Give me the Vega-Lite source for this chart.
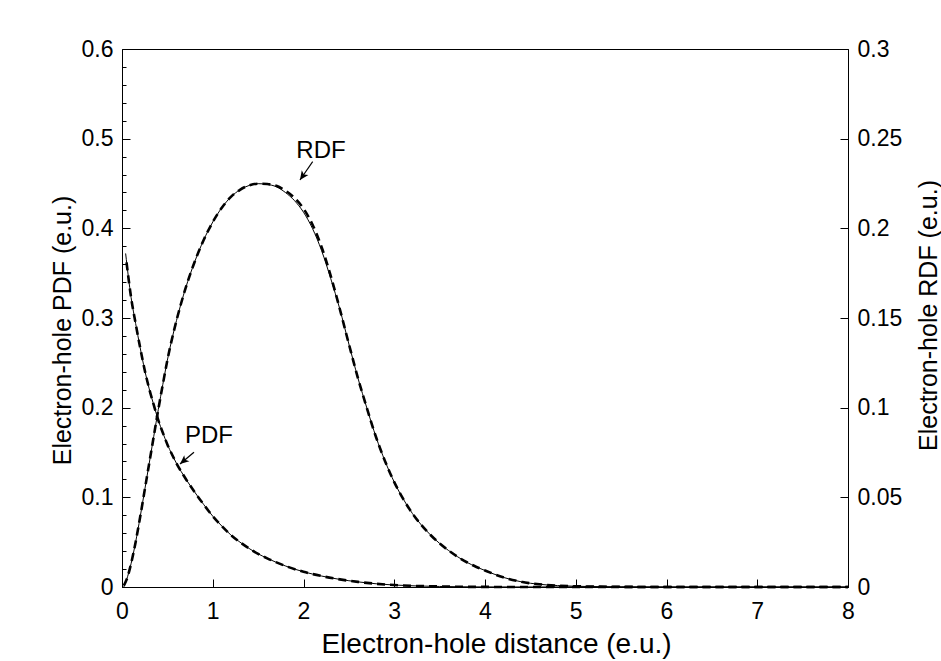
{
  "$schema": "https://vega.github.io/schema/vega-lite/v6.json",
  "width": 726,
  "height": 538,
  "autosize": "none",
  "padding": {"left": 122, "top": 49, "right": 93, "bottom": 74},
  "background": "white",
  "config": {
    "view": {"stroke": "black", "strokeWidth": 1},
    "font": "Liberation Sans",
    "axis": {
      "grid": false,
      "domainColor": "black",
      "tickColor": "black",
      "labelColor": "black",
      "titleColor": "black",
      "labelFont": "Liberation Sans",
      "titleFont": "Liberation Sans",
      "titleFontWeight": "normal",
      "labelFontSize": 23,
      "titleFontSize": 25,
      "tickSize": -8,
      "labelPadding": 17,
      "labelFlush": false,
      "labelOverlap": false
    }
  },
  "datasets": {
    "curves": [
      {"curve": "PDF", "series": "calc1", "x": 0.04, "v": 0.372},
      {"curve": "PDF", "series": "calc1", "x": 0.1, "v": 0.323},
      {"curve": "PDF", "series": "calc1", "x": 0.15, "v": 0.294},
      {"curve": "PDF", "series": "calc1", "x": 0.2, "v": 0.267},
      {"curve": "PDF", "series": "calc1", "x": 0.25, "v": 0.242},
      {"curve": "PDF", "series": "calc1", "x": 0.3, "v": 0.221},
      {"curve": "PDF", "series": "calc1", "x": 0.35, "v": 0.203},
      {"curve": "PDF", "series": "calc1", "x": 0.4, "v": 0.186},
      {"curve": "PDF", "series": "calc1", "x": 0.45, "v": 0.172},
      {"curve": "PDF", "series": "calc1", "x": 0.5, "v": 0.159},
      {"curve": "PDF", "series": "calc1", "x": 0.55, "v": 0.148},
      {"curve": "PDF", "series": "calc1", "x": 0.6, "v": 0.138},
      {"curve": "PDF", "series": "calc1", "x": 0.7, "v": 0.121},
      {"curve": "PDF", "series": "calc1", "x": 0.8, "v": 0.106},
      {"curve": "PDF", "series": "calc1", "x": 0.9, "v": 0.092},
      {"curve": "PDF", "series": "calc1", "x": 1.0, "v": 0.079},
      {"curve": "PDF", "series": "calc1", "x": 1.1, "v": 0.068},
      {"curve": "PDF", "series": "calc1", "x": 1.2, "v": 0.058},
      {"curve": "PDF", "series": "calc1", "x": 1.3, "v": 0.05},
      {"curve": "PDF", "series": "calc1", "x": 1.4, "v": 0.043},
      {"curve": "PDF", "series": "calc1", "x": 1.5, "v": 0.037},
      {"curve": "PDF", "series": "calc1", "x": 1.6, "v": 0.032},
      {"curve": "PDF", "series": "calc1", "x": 1.8, "v": 0.0235},
      {"curve": "PDF", "series": "calc1", "x": 2.0, "v": 0.017},
      {"curve": "PDF", "series": "calc1", "x": 2.2, "v": 0.0122},
      {"curve": "PDF", "series": "calc1", "x": 2.4, "v": 0.0085},
      {"curve": "PDF", "series": "calc1", "x": 2.6, "v": 0.0057},
      {"curve": "PDF", "series": "calc1", "x": 2.8, "v": 0.0036},
      {"curve": "PDF", "series": "calc1", "x": 3.0, "v": 0.0022},
      {"curve": "PDF", "series": "calc1", "x": 3.5, "v": 0.0006},
      {"curve": "PDF", "series": "calc1", "x": 4.0, "v": 0.0001},
      {"curve": "PDF", "series": "calc1", "x": 5.0, "v": 0},
      {"curve": "PDF", "series": "calc1", "x": 8.0, "v": 0},
      {"curve": "PDF", "series": "calc2", "x": 0.05, "v": 0.362},
      {"curve": "PDF", "series": "calc2", "x": 0.1, "v": 0.323},
      {"curve": "PDF", "series": "calc2", "x": 0.15, "v": 0.294},
      {"curve": "PDF", "series": "calc2", "x": 0.2, "v": 0.267},
      {"curve": "PDF", "series": "calc2", "x": 0.25, "v": 0.242},
      {"curve": "PDF", "series": "calc2", "x": 0.3, "v": 0.221},
      {"curve": "PDF", "series": "calc2", "x": 0.35, "v": 0.203},
      {"curve": "PDF", "series": "calc2", "x": 0.4, "v": 0.186},
      {"curve": "PDF", "series": "calc2", "x": 0.45, "v": 0.172},
      {"curve": "PDF", "series": "calc2", "x": 0.5, "v": 0.159},
      {"curve": "PDF", "series": "calc2", "x": 0.55, "v": 0.148},
      {"curve": "PDF", "series": "calc2", "x": 0.6, "v": 0.138},
      {"curve": "PDF", "series": "calc2", "x": 0.7, "v": 0.121},
      {"curve": "PDF", "series": "calc2", "x": 0.8, "v": 0.106},
      {"curve": "PDF", "series": "calc2", "x": 0.9, "v": 0.092},
      {"curve": "PDF", "series": "calc2", "x": 1.0, "v": 0.079},
      {"curve": "PDF", "series": "calc2", "x": 1.1, "v": 0.068},
      {"curve": "PDF", "series": "calc2", "x": 1.2, "v": 0.058},
      {"curve": "PDF", "series": "calc2", "x": 1.3, "v": 0.05},
      {"curve": "PDF", "series": "calc2", "x": 1.4, "v": 0.043},
      {"curve": "PDF", "series": "calc2", "x": 1.5, "v": 0.037},
      {"curve": "PDF", "series": "calc2", "x": 1.6, "v": 0.032},
      {"curve": "PDF", "series": "calc2", "x": 1.8, "v": 0.0235},
      {"curve": "PDF", "series": "calc2", "x": 2.0, "v": 0.017},
      {"curve": "PDF", "series": "calc2", "x": 2.2, "v": 0.0122},
      {"curve": "PDF", "series": "calc2", "x": 2.4, "v": 0.0085},
      {"curve": "PDF", "series": "calc2", "x": 2.6, "v": 0.0057},
      {"curve": "PDF", "series": "calc2", "x": 2.8, "v": 0.0036},
      {"curve": "PDF", "series": "calc2", "x": 3.0, "v": 0.0022},
      {"curve": "PDF", "series": "calc2", "x": 3.5, "v": 0.0006},
      {"curve": "PDF", "series": "calc2", "x": 4.0, "v": 0.0001},
      {"curve": "PDF", "series": "calc2", "x": 5.0, "v": 0},
      {"curve": "PDF", "series": "calc2", "x": 8.0, "v": 0},
      {"curve": "RDF", "series": "calc1", "x": 0.02, "v": 0.0},
      {"curve": "RDF", "series": "calc1", "x": 0.05, "v": 0.004},
      {"curve": "RDF", "series": "calc1", "x": 0.1, "v": 0.013},
      {"curve": "RDF", "series": "calc1", "x": 0.15, "v": 0.025},
      {"curve": "RDF", "series": "calc1", "x": 0.2, "v": 0.039},
      {"curve": "RDF", "series": "calc1", "x": 0.25, "v": 0.054},
      {"curve": "RDF", "series": "calc1", "x": 0.3, "v": 0.069},
      {"curve": "RDF", "series": "calc1", "x": 0.35, "v": 0.084},
      {"curve": "RDF", "series": "calc1", "x": 0.4, "v": 0.099},
      {"curve": "RDF", "series": "calc1", "x": 0.45, "v": 0.113},
      {"curve": "RDF", "series": "calc1", "x": 0.5, "v": 0.1265},
      {"curve": "RDF", "series": "calc1", "x": 0.6, "v": 0.1485},
      {"curve": "RDF", "series": "calc1", "x": 0.7, "v": 0.1665},
      {"curve": "RDF", "series": "calc1", "x": 0.8, "v": 0.1812},
      {"curve": "RDF", "series": "calc1", "x": 0.9, "v": 0.1935},
      {"curve": "RDF", "series": "calc1", "x": 1.0, "v": 0.2035},
      {"curve": "RDF", "series": "calc1", "x": 1.1, "v": 0.2115},
      {"curve": "RDF", "series": "calc1", "x": 1.2, "v": 0.2175},
      {"curve": "RDF", "series": "calc1", "x": 1.3, "v": 0.2215},
      {"curve": "RDF", "series": "calc1", "x": 1.4, "v": 0.2239},
      {"curve": "RDF", "series": "calc1", "x": 1.5, "v": 0.2249},
      {"curve": "RDF", "series": "calc1", "x": 1.6, "v": 0.2245},
      {"curve": "RDF", "series": "calc1", "x": 1.7, "v": 0.2232},
      {"curve": "RDF", "series": "calc1", "x": 1.8, "v": 0.22},
      {"curve": "RDF", "series": "calc1", "x": 1.9, "v": 0.2155},
      {"curve": "RDF", "series": "calc1", "x": 2.0, "v": 0.209},
      {"curve": "RDF", "series": "calc1", "x": 2.1, "v": 0.1998},
      {"curve": "RDF", "series": "calc1", "x": 2.2, "v": 0.1875},
      {"curve": "RDF", "series": "calc1", "x": 2.3, "v": 0.172},
      {"curve": "RDF", "series": "calc1", "x": 2.4, "v": 0.155},
      {"curve": "RDF", "series": "calc1", "x": 2.5, "v": 0.1355},
      {"curve": "RDF", "series": "calc1", "x": 2.6, "v": 0.1165},
      {"curve": "RDF", "series": "calc1", "x": 2.7, "v": 0.0995},
      {"curve": "RDF", "series": "calc1", "x": 2.8, "v": 0.0835},
      {"curve": "RDF", "series": "calc1", "x": 2.9, "v": 0.07},
      {"curve": "RDF", "series": "calc1", "x": 3.0, "v": 0.0585},
      {"curve": "RDF", "series": "calc1", "x": 3.1, "v": 0.049},
      {"curve": "RDF", "series": "calc1", "x": 3.2, "v": 0.041},
      {"curve": "RDF", "series": "calc1", "x": 3.3, "v": 0.0345},
      {"curve": "RDF", "series": "calc1", "x": 3.4, "v": 0.029},
      {"curve": "RDF", "series": "calc1", "x": 3.5, "v": 0.0243},
      {"curve": "RDF", "series": "calc1", "x": 3.6, "v": 0.0203},
      {"curve": "RDF", "series": "calc1", "x": 3.7, "v": 0.0168},
      {"curve": "RDF", "series": "calc1", "x": 3.8, "v": 0.0138},
      {"curve": "RDF", "series": "calc1", "x": 3.9, "v": 0.0113},
      {"curve": "RDF", "series": "calc1", "x": 4.0, "v": 0.0092},
      {"curve": "RDF", "series": "calc1", "x": 4.2, "v": 0.0054},
      {"curve": "RDF", "series": "calc1", "x": 4.4, "v": 0.0029},
      {"curve": "RDF", "series": "calc1", "x": 4.6, "v": 0.0015},
      {"curve": "RDF", "series": "calc1", "x": 4.8, "v": 0.0008},
      {"curve": "RDF", "series": "calc1", "x": 5.0, "v": 0.0004},
      {"curve": "RDF", "series": "calc1", "x": 5.5, "v": 0.0001},
      {"curve": "RDF", "series": "calc1", "x": 6.0, "v": 0},
      {"curve": "RDF", "series": "calc1", "x": 8.0, "v": 0},
      {"curve": "RDF", "series": "calc2", "x": 0.02, "v": 0.0008},
      {"curve": "RDF", "series": "calc2", "x": 0.05, "v": 0.004},
      {"curve": "RDF", "series": "calc2", "x": 0.1, "v": 0.013},
      {"curve": "RDF", "series": "calc2", "x": 0.15, "v": 0.025},
      {"curve": "RDF", "series": "calc2", "x": 0.2, "v": 0.039},
      {"curve": "RDF", "series": "calc2", "x": 0.25, "v": 0.054},
      {"curve": "RDF", "series": "calc2", "x": 0.3, "v": 0.069},
      {"curve": "RDF", "series": "calc2", "x": 0.35, "v": 0.084},
      {"curve": "RDF", "series": "calc2", "x": 0.4, "v": 0.099},
      {"curve": "RDF", "series": "calc2", "x": 0.45, "v": 0.113},
      {"curve": "RDF", "series": "calc2", "x": 0.5, "v": 0.1265},
      {"curve": "RDF", "series": "calc2", "x": 0.6, "v": 0.1485},
      {"curve": "RDF", "series": "calc2", "x": 0.7, "v": 0.1665},
      {"curve": "RDF", "series": "calc2", "x": 0.8, "v": 0.1812},
      {"curve": "RDF", "series": "calc2", "x": 0.9, "v": 0.1935},
      {"curve": "RDF", "series": "calc2", "x": 1.0, "v": 0.2035},
      {"curve": "RDF", "series": "calc2", "x": 1.1, "v": 0.2115},
      {"curve": "RDF", "series": "calc2", "x": 1.2, "v": 0.2175},
      {"curve": "RDF", "series": "calc2", "x": 1.3, "v": 0.2215},
      {"curve": "RDF", "series": "calc2", "x": 1.4, "v": 0.2239},
      {"curve": "RDF", "series": "calc2", "x": 1.5, "v": 0.2249},
      {"curve": "RDF", "series": "calc2", "x": 1.6, "v": 0.2247},
      {"curve": "RDF", "series": "calc2", "x": 1.7, "v": 0.2237},
      {"curve": "RDF", "series": "calc2", "x": 1.8, "v": 0.221},
      {"curve": "RDF", "series": "calc2", "x": 1.9, "v": 0.217},
      {"curve": "RDF", "series": "calc2", "x": 2.0, "v": 0.211},
      {"curve": "RDF", "series": "calc2", "x": 2.1, "v": 0.202},
      {"curve": "RDF", "series": "calc2", "x": 2.2, "v": 0.1895},
      {"curve": "RDF", "series": "calc2", "x": 2.3, "v": 0.1735},
      {"curve": "RDF", "series": "calc2", "x": 2.4, "v": 0.155},
      {"curve": "RDF", "series": "calc2", "x": 2.5, "v": 0.1355},
      {"curve": "RDF", "series": "calc2", "x": 2.6, "v": 0.1165},
      {"curve": "RDF", "series": "calc2", "x": 2.7, "v": 0.0995},
      {"curve": "RDF", "series": "calc2", "x": 2.8, "v": 0.0835},
      {"curve": "RDF", "series": "calc2", "x": 2.9, "v": 0.07},
      {"curve": "RDF", "series": "calc2", "x": 3.0, "v": 0.0585},
      {"curve": "RDF", "series": "calc2", "x": 3.1, "v": 0.049},
      {"curve": "RDF", "series": "calc2", "x": 3.2, "v": 0.041},
      {"curve": "RDF", "series": "calc2", "x": 3.3, "v": 0.0345},
      {"curve": "RDF", "series": "calc2", "x": 3.4, "v": 0.029},
      {"curve": "RDF", "series": "calc2", "x": 3.5, "v": 0.0243},
      {"curve": "RDF", "series": "calc2", "x": 3.6, "v": 0.0203},
      {"curve": "RDF", "series": "calc2", "x": 3.7, "v": 0.0168},
      {"curve": "RDF", "series": "calc2", "x": 3.8, "v": 0.0138},
      {"curve": "RDF", "series": "calc2", "x": 3.9, "v": 0.0113},
      {"curve": "RDF", "series": "calc2", "x": 4.0, "v": 0.0092},
      {"curve": "RDF", "series": "calc2", "x": 4.2, "v": 0.0054},
      {"curve": "RDF", "series": "calc2", "x": 4.4, "v": 0.0029},
      {"curve": "RDF", "series": "calc2", "x": 4.6, "v": 0.0015},
      {"curve": "RDF", "series": "calc2", "x": 4.8, "v": 0.0008},
      {"curve": "RDF", "series": "calc2", "x": 5.0, "v": 0.0004},
      {"curve": "RDF", "series": "calc2", "x": 5.5, "v": 0.0001},
      {"curve": "RDF", "series": "calc2", "x": 6.0, "v": 0},
      {"curve": "RDF", "series": "calc2", "x": 8.0, "v": 0}
    ],
    "labels": [
      {"label": "RDF", "x": 2.193, "y": 0.486},
      {"label": "PDF", "x": 0.959, "y": 0.168}
    ],
    "arrows": [
      {"label": "RDF", "x": 1.961, "y": 0.4539, "x2": 2.101, "y2": 0.4743},
      {"label": "PDF", "x": 0.639, "y": 0.1372, "x2": 0.793, "y2": 0.1502}
    ]
  },
  "encoding": {
    "x": {
      "field": "x",
      "type": "quantitative",
      "title": "Electron-hole distance (e.u.)",
      "scale": {"domain": [0, 8], "nice": false, "zero": false},
      "axis": {
        "values": [0, 1, 2, 3, 4, 5, 6, 7, 8],
        "format": "d",
        "tickSize": -8,
        "titleFontSize": 28,
        "titleX": 374,
        "titleY": 65,
        "titleAlign": "center",
        "titleBaseline": "alphabetic",
        "labelBaseline": "alphabetic",
        "labelPadding": 39
      }
    }
  },
  "layer": [
    {
      "data": {"name": "curves"},
      "transform": [{"filter": "datum.curve === 'PDF'"}],
      "encoding": {
        "y": {
          "field": "v",
          "type": "quantitative",
          "scale": {"domain": [0, 0.6], "nice": false},
          "axis": {
            "orient": "left",
            "values": [0, 0.1, 0.2, 0.3, 0.4, 0.5, 0.6],
            "format": "~g",
            "tickSize": -8,
            "title": "Electron-hole PDF (e.u.)",
            "titleAngle": 270,
            "titleX": -52,
            "titleY": 281,
            "titleAlign": "center",
            "titleBaseline": "alphabetic"
          }
        }
      },
      "layer": [
        {
          "transform": [{"filter": "datum.series === 'calc2'"}],
          "mark": {"type": "line", "color": "black", "strokeWidth": 2.6, "strokeDash": [8, 5], "interpolate": "monotone"}
        },
        {
          "transform": [{"filter": "datum.series === 'calc1'"}],
          "mark": {"type": "line", "color": "black", "strokeWidth": 1, "interpolate": "monotone"}
        }
      ]
    },
    {
      "data": {"name": "curves"},
      "transform": [{"filter": "datum.curve === 'RDF'"}],
      "encoding": {
        "y": {
          "field": "v",
          "type": "quantitative",
          "scale": {"domain": [0, 0.3], "nice": false},
          "axis": {
            "orient": "right",
            "values": [0, 0.05, 0.1, 0.15, 0.2, 0.25, 0.3],
            "format": "~g",
            "tickSize": -8,
            "title": "Electron-hole RDF (e.u.)",
            "titleAngle": 270,
            "titleX": 88,
            "titleY": 266,
            "titleAlign": "center",
            "titleBaseline": "alphabetic"
          }
        }
      },
      "layer": [
        {
          "transform": [{"filter": "datum.series === 'calc2'"}],
          "mark": {"type": "line", "color": "black", "strokeWidth": 2.6, "strokeDash": [8, 5], "interpolate": "monotone"}
        },
        {
          "transform": [{"filter": "datum.series === 'calc1'"}],
          "mark": {"type": "line", "color": "black", "strokeWidth": 1, "interpolate": "monotone"}
        }
      ]
    },
    {
      "encoding": {
        "y": {
          "field": "y",
          "type": "quantitative",
          "scale": {"domain": [0, 0.6], "nice": false},
          "axis": {
            "orient": "left",
            "values": [0.02, 0.04, 0.06, 0.08, 0.12, 0.14, 0.16, 0.18, 0.22, 0.24, 0.26, 0.28, 0.32, 0.34, 0.36, 0.38, 0.42, 0.44, 0.46, 0.48, 0.52, 0.54, 0.56, 0.58],
            "labels": false,
            "domain": false,
            "tickSize": -4,
            "title": null
          }
        }
      },
      "layer": [
        {
          "data": {"name": "labels"},
          "mark": {"type": "text", "font": "Liberation Sans", "fontSize": 24, "align": "center", "baseline": "middle", "color": "black"},
          "encoding": {"text": {"field": "label"}}
        },
        {
          "data": {"name": "arrows"},
          "mark": {"type": "rule", "color": "black", "strokeWidth": 1.2},
          "encoding": {"x2": {"field": "x2"}, "y2": {"field": "y2"}}
        },
        {
          "data": {"name": "arrows"},
          "transform": [{"filter": "datum.label === 'RDF'"}],
          "mark": {"type": "point", "shape": "M0,0L-0.45,1L0,0.75L0.45,1Z", "size": 320, "angle": 215, "filled": true, "color": "black", "opacity": 1, "strokeWidth": 0}
        },
        {
          "data": {"name": "arrows"},
          "transform": [{"filter": "datum.label === 'PDF'"}],
          "mark": {"type": "point", "shape": "M0,0L-0.45,1L0,0.75L0.45,1Z", "size": 320, "angle": 230, "filled": true, "color": "black", "opacity": 1, "strokeWidth": 0}
        }
      ]
    }
  ],
  "resolve": {"scale": {"y": "independent"}}
}
